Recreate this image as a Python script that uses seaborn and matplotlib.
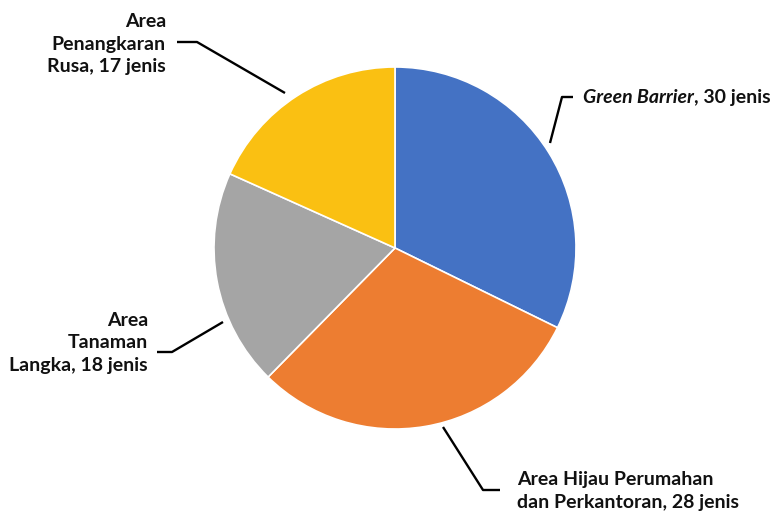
import matplotlib
matplotlib.use("Agg")
import matplotlib.pyplot as plt
import seaborn as sns

categories = ["Green Barrier", "Area Hijau Perumahan dan Perkantoran", "Area Tanaman Langka", "Area Penangkaran Rusa"]
values = [30, 28, 18, 17]
colors = ["#4472C4", "#ED7D31", "#A5A5A5", "#FAC012"]

sns.set_theme(style="white")
plt.rcParams['font.family'] = ['Lato', 'DejaVu Sans']

W, H = 779, 511
fig = plt.figure(figsize=(W / 100, H / 100), dpi=100)
ax = fig.add_axes([0, 0, 1, 1])

cx, cy, r = 395, H - 248, 181
ax.pie(values, colors=colors, startangle=90, counterclock=False,
       center=(cx, cy), radius=r, frame=True,
       wedgeprops=dict(edgecolor="white", linewidth=1.2))
ax.set_xlim(0, W)
ax.set_ylim(0, H)
ax.set_aspect("equal")
ax.axis("off")

def Y(y):
    return H - y

lw = 1.7
fs = 14
tc = "#111111"
# leader lines (label anchor elbows)
leaders = [
    [(550, 143), (562, 97), (573, 97)],
    [(443, 427), (483, 490), (500, 490)],
    [(223, 322), (172, 352), (157, 352)],
    [(285, 93), (197, 42), (177, 42)],
]
for pts in leaders:
    ax.plot([p[0] for p in pts], [Y(p[1]) for p in pts], color="black", lw=lw,
            solid_capstyle="butt")

# Green Barrier (italic part)
t1 = ax.text(583, Y(97), categories[0], fontsize=fs, fontweight="bold", style="italic",
             ha="left", va="center", color=tc)
fig.canvas.draw()
bb = t1.get_window_extent()
x_end = ax.transData.inverted().transform((bb.x1, bb.y0))[0]
ax.text(x_end, Y(97), f", {values[0]} jenis", fontsize=fs, fontweight="bold",
        ha="left", va="center", color=tc)

ax.text(517, Y(491), f"Area Hijau Perumahan\ndan Perkantoran, {values[1]} jenis",
        fontsize=fs, fontweight="bold", ha="left", va="center", linespacing=1.4, color=tc)
ax.text(148, Y(343), f"Area\nTanaman\nLangka, {values[2]} jenis",
        fontsize=fs, fontweight="bold", ha="right", va="center", linespacing=1.4,
        multialignment="right", color=tc)
ax.text(166, Y(44), f"Area\nPenangkaran\nRusa, {values[3]} jenis",
        fontsize=fs, fontweight="bold", ha="right", va="center", linespacing=1.4,
        multialignment="right", color=tc)

fig.savefig("out.png", dpi=100)
